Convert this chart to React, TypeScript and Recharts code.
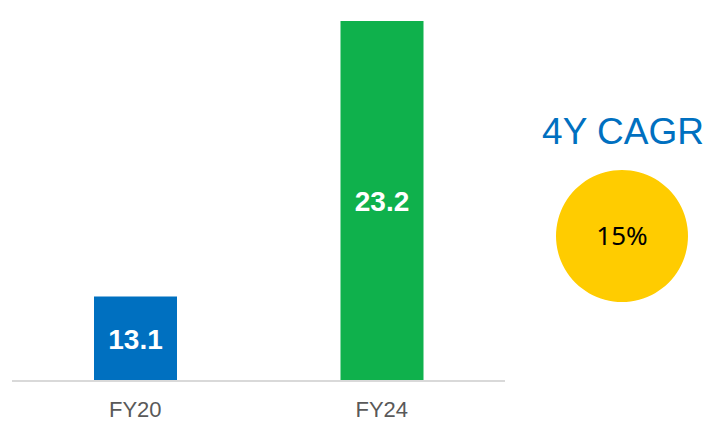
import { Bar, BarChart, Cell, LabelList, Pie, PieChart, XAxis, YAxis } from "recharts";

const years = ["FY20", "FY24"];
const values = [13.1, 23.2];
const barColors = ["#0070C0", "#0FB14C"];
const cagrTitle = "4Y CAGR";
const cagrValue = [{ name: "CAGR", value: 15 }];

const FONT = "'Liberation Sans', Arial, sans-serif";

const data = years.map((year, i) => ({ year, value: values[i] }));

export default function App() {
  return (
    <div style={{ position: "absolute", top: 0, left: 0, width: 707, height: 421, background: "#fff", fontFamily: FONT }}>
      <BarChart width={510} height={421} data={data} margin={{ top: 21, right: 5, left: 12, bottom: 0 }} barCategoryGap={0}>
        <XAxis
          dataKey="year"
          height={40}
          tickLine={false}
          axisLine={{ stroke: "#D9D9D9", strokeWidth: 2 }}
          tick={{ fill: "#595959", fontSize: 22, fontFamily: FONT }}
          tickMargin={14}
        />
        <YAxis hide domain={[10, 23.2]} allowDataOverflow />
        <Bar dataKey="value" barSize={83} isAnimationActive={false}>
          {data.map((_, i) => (
            <Cell key={i} fill={barColors[i]} />
          ))}
          <LabelList
            dataKey="value"
            position="center"
            fill="#fff"
            style={{ fontSize: 28, fontWeight: "bold", fontFamily: FONT }}
            formatter={(v: number) => v.toFixed(1)}
          />
        </Bar>
      </BarChart>
      <div
        style={{
          position: "absolute",
          left: 523,
          top: 112,
          width: 200,
          textAlign: "center",
          color: "#0070C0",
          fontSize: 37,
          lineHeight: "40px",
          fontFamily: FONT,
        }}
      >
        {cagrTitle}
      </div>
      <div style={{ position: "absolute", left: 552, top: 166 }}>
        <PieChart width={140} height={140} margin={{ top: 0, right: 0, bottom: 0, left: 0 }}>
          <Pie
            data={cagrValue}
            dataKey="value"
            cx={70}
            cy={70}
            innerRadius={0}
            outerRadius={66}
            stroke="none"
            fill="#FFCC00"
            isAnimationActive={false}
          >
            <LabelList
              dataKey="value"
              position="center"
              fill="#000"
              style={{ fontSize: 26, fontFamily: "'Noto Sans', sans-serif" }}
              formatter={(v: number) => `${v}%`}
            />
          </Pie>
        </PieChart>
      </div>
    </div>
  );
}
